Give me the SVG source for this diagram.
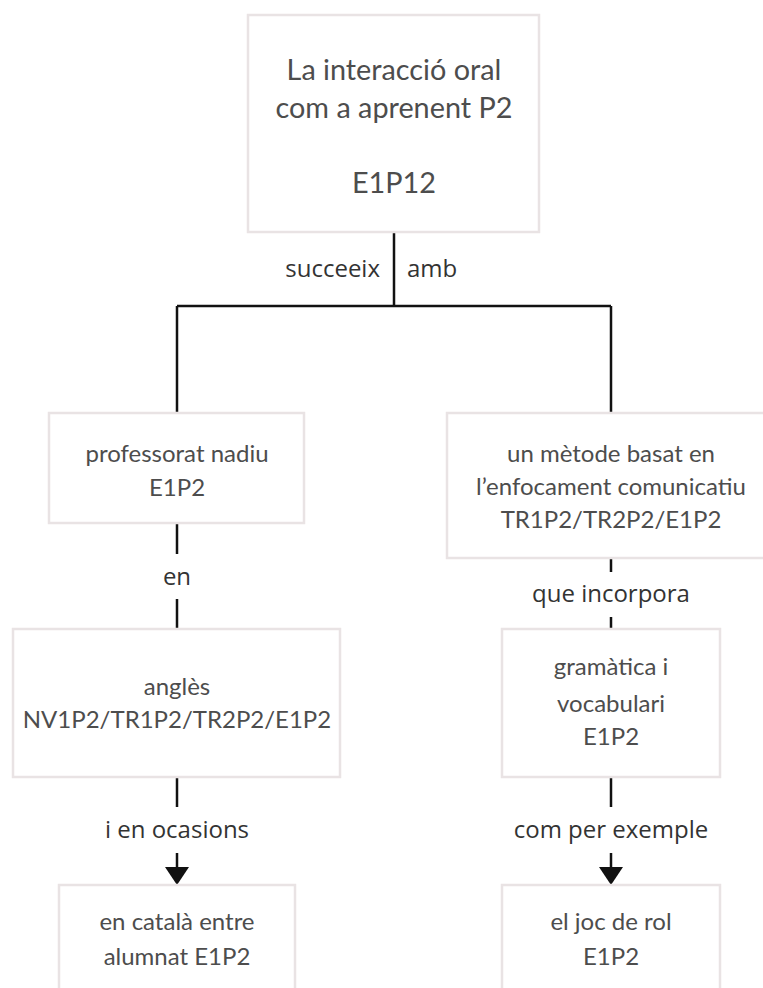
<svg xmlns="http://www.w3.org/2000/svg" width="763" height="988" viewBox="0 0 763 988">
  <defs>
    <style>
      .box { fill: #ffffff; stroke: #e9e3e4; stroke-width: 2.5; }
      .t { font-family: Lato, "Open Sans", "Liberation Sans", sans-serif; fill: #4d4d4d; text-anchor: middle; }
      .title { font-size: 28.8px; }
      .node { font-size: 24px; }
      .lbl { font-family: "Open Sans", Lato, "Liberation Sans", sans-serif; font-size: 24px; fill: #333333; text-anchor: middle; }
      .wire { fill: none; stroke: #111111; stroke-width: 2.5; }
    </style>
  </defs>
  <rect width="763" height="988" fill="#ffffff"/>

  <g id="connectors">
    <path class="wire" d="M394,232 V306 M177,306 H611 M177,306 V413 M611,306 V413"/>
    <path class="wire" d="M177,523 V554 M177,599 V629"/>
    <path class="wire" d="M611,558 V572 M611,617 V629"/>
    <line class="wire" x1="177" y1="777" x2="177" y2="807"/>
    <path class="wire" d="M177,853 V867"/>
    <path d="M165,867 L189,867 L177,885 Z" fill="#111111"/>
    <line class="wire" x1="611" y1="777" x2="611" y2="807"/>
    <path class="wire" d="M611,853 V867"/>
    <path d="M599,867 L623,867 L611,885 Z" fill="#111111"/>
    <text class="lbl" x="380" y="277" style="text-anchor:end">succeeix</text>
    <text class="lbl" x="407" y="277" style="text-anchor:start">amb</text>
    <text class="lbl" x="177" y="585">en</text>
    <text class="lbl" x="611" y="602">que incorpora</text>
    <text class="lbl" x="177" y="838">i en ocasions</text>
    <text class="lbl" x="611" y="838">com per exemple</text>
  </g>

  <g id="root">
    <rect class="box" x="248" y="15" width="291" height="217"/>
    <text class="t title" x="394" y="80">La interacció oral</text>
    <text class="t title" x="394" y="118">com a aprenent P2</text>
    <text class="t title" x="394" y="193">E1P12</text>
  </g>

  <g id="professorat">
    <rect class="box" x="49" y="413" width="255" height="110"/>
    <text class="t node" x="177" y="462">professorat nadiu</text>
    <text class="t node" x="177" y="496">E1P2</text>
  </g>

  <g id="metode">
    <rect class="box" x="447" y="413" width="328" height="145"/>
    <text class="t node" x="611" y="462">un mètode basat en</text>
    <text class="t node" x="611" y="495">l’enfocament comunicatiu</text>
    <text class="t node" x="611" y="528">TR1P2/TR2P2/E1P2</text>
  </g>

  <g id="angles">
    <rect class="box" x="13" y="629" width="327" height="148"/>
    <text class="t node" x="177" y="695">anglès</text>
    <text class="t node" x="177" y="728">NV1P2/TR1P2/TR2P2/E1P2</text>
  </g>

  <g id="gramatica">
    <rect class="box" x="502" y="629" width="218" height="148"/>
    <text class="t node" x="611" y="675">gramàtica i</text>
    <text class="t node" x="611" y="712">vocabulari</text>
    <text class="t node" x="611" y="745">E1P2</text>
  </g>

  <g id="catala">
    <rect class="box" x="59" y="885" width="236" height="120"/>
    <text class="t node" x="177" y="930">en català entre</text>
    <text class="t node" x="177" y="965">alumnat E1P2</text>
  </g>

  <g id="joc">
    <rect class="box" x="502" y="885" width="218" height="120"/>
    <text class="t node" x="611" y="930">el joc de rol</text>
    <text class="t node" x="611" y="965">E1P2</text>
  </g>
</svg>
